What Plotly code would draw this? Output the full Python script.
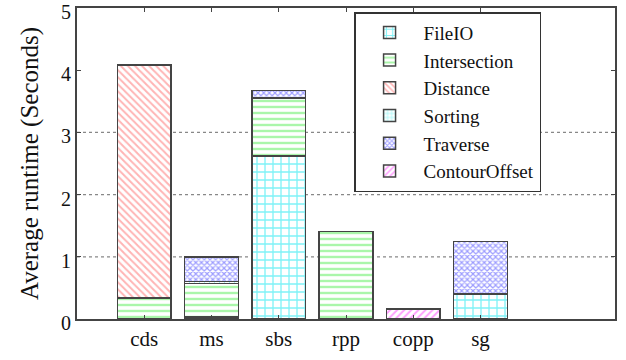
import plotly.graph_objects as go

categories = ["cds", "ms", "sbs", "rpp", "copp", "sg"]
fileio = [0.01, 0.03, 2.62, None, None, 0.40]
intersection = [0.33, 0.54, 0.93, 1.41, None, None]
distance = [3.74, None, None, None, None, None]
sorting = [None, 0.03, None, None, None, None]
traverse = [None, 0.40, 0.12, None, None, 0.85]
contour = [None, None, None, None, 0.16, None]
y_ticks = [0, 1, 2, 3, 4, 5]
grid_vals = [1, 2, 3]

xpos = list(range(1, len(categories) + 1))

series = [
    ("FileIO", fileio, "+", "#00e5ee", 8, 0.3),
    ("Intersection", intersection, "-", "#55ee55", 6, 0.4),
    ("Distance", distance, "\\", "#ff6a6a", 5, 0.4),
    ("Sorting", sorting, "+", "#22eeee", 5, 0.3),
    ("Traverse", traverse, "x", "#3a3aff", 4, 0.5),
    ("ContourOffset", contour, "/", "#ff44ff", 5, 0.4),
]

FONT = "Liberation Serif"

fig = go.Figure()
for name, vals, shape, col, size, sol in series:
    fig.add_trace(go.Bar(
        name=name, x=xpos, y=vals, width=0.8,
        marker=dict(color="white",
                    line=dict(color="#444444", width=1.5),
                    pattern=dict(shape=shape, fgcolor=col, bgcolor="white",
                                 size=size, solidity=sol, fillmode="overlay")),
    ))

for g in grid_vals:
    fig.add_shape(type="line", xref="paper", x0=0, x1=1, yref="y", y0=g, y1=g,
                  line=dict(color="#888888", width=1.3, dash="dot"), layer="below")

fig.update_layout(
    width=626, height=360, barmode="stack",
    margin=dict(l=77, r=11, t=8, b=41),
    plot_bgcolor="white", paper_bgcolor="white",
    font=dict(family=FONT, size=20, color="#111111"),
    legend=dict(x=0.515, y=0.987, xanchor="left", yanchor="top",
                traceorder="normal", bgcolor="white",
                bordercolor="#333333", borderwidth=1.5,
                font=dict(family=FONT, size=19), itemwidth=58,
                tracegroupgap=0),
    xaxis=dict(range=[0, 8], tickvals=xpos, ticktext=categories,
               showgrid=False, zeroline=False, showline=True, mirror="ticks",
               linecolor="#444444", linewidth=2, ticks="inside", ticklen=4,
               tickcolor="#444444", automargin=False,
               tickfont=dict(family=FONT, size=21)),
    yaxis=dict(range=[0, 5], tickvals=y_ticks, showgrid=False, zeroline=False,
               showline=True, mirror="ticks", linecolor="#444444", linewidth=2,
               ticks="inside", ticklen=4, tickcolor="#444444",
               ticklabeloverflow="allow", automargin=False, ticklabelshift=4,
               tickfont=dict(family=FONT, size=20),
               title=dict(text="Average runtime (Seconds)",
                          font=dict(family=FONT, size=25), standoff=15)),
)

fig.write_html("out.html")
